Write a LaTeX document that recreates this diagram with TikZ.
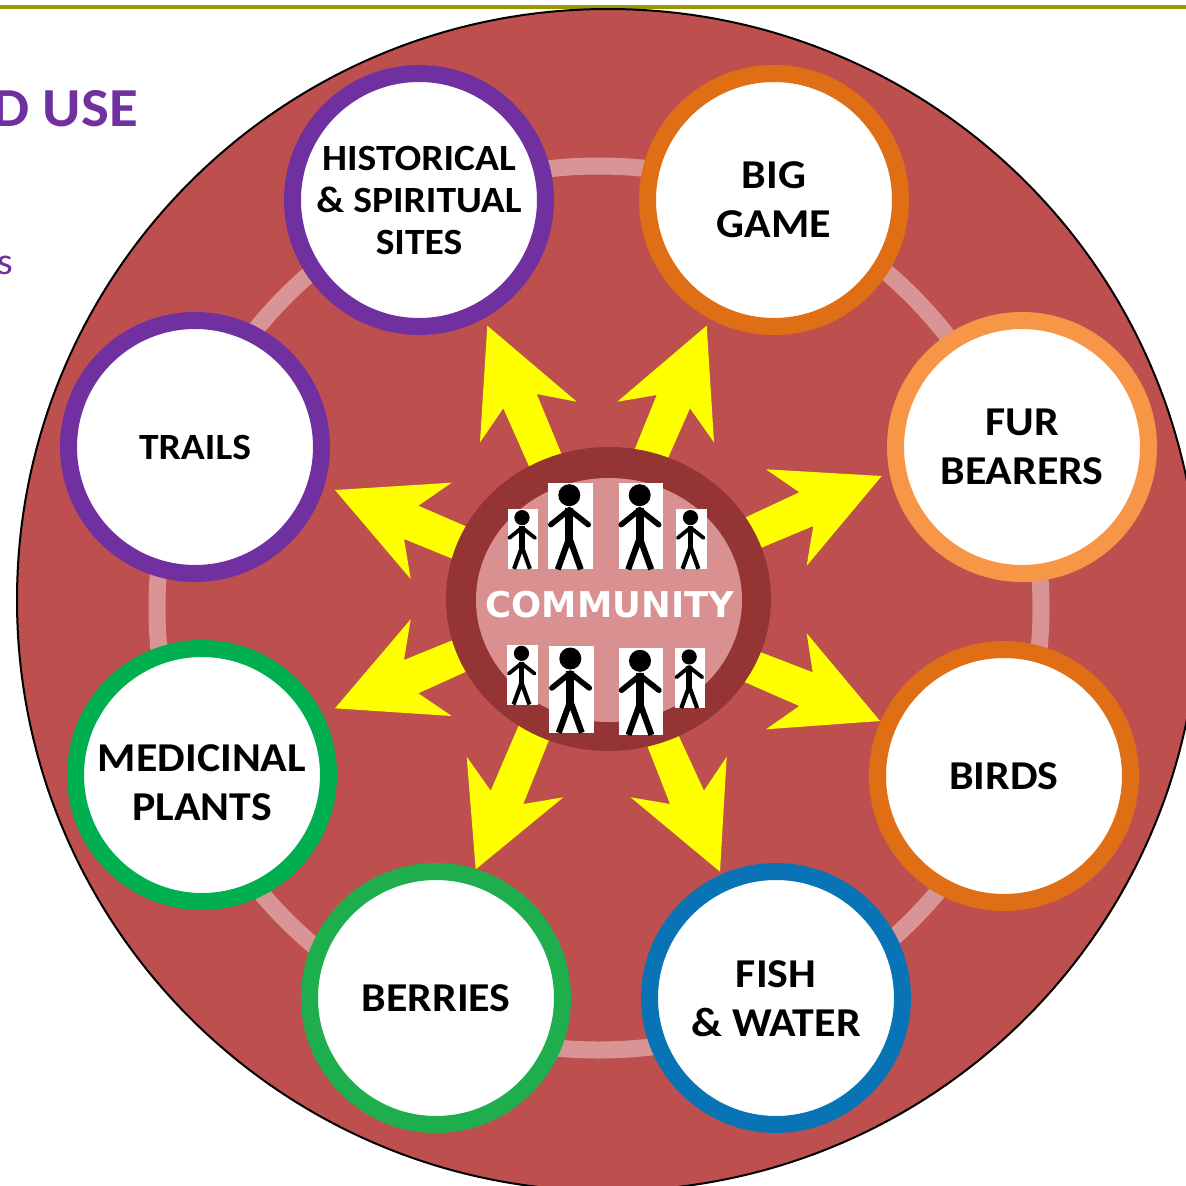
\documentclass[tikz,border=0pt]{standalone}
\usepackage{fontspec}
\setmainfont[FakeStretch=1.07]{Carlito}
\newfontfamily\comfont{DejaVu Sans}
\definecolor{disc}{HTML}{BD504E}
\definecolor{hubdark}{HTML}{943434}
\definecolor{hublight}{HTML}{D89090}
\definecolor{ringc}{HTML}{D99595}
\definecolor{purp}{HTML}{7030A0}
\definecolor{orng}{HTML}{DF6E14}
\definecolor{lorng}{HTML}{F79646}
\definecolor{grn}{HTML}{00B050}
\definecolor{lgrn}{HTML}{1FAE4E}
\definecolor{blu}{HTML}{0874B5}
\definecolor{olive}{HTML}{9A9A00}
\definecolor{yel}{HTML}{FFFF00}
\tikzset{
  topic/.style={circle,draw=#1,fill=white,line width=17pt,minimum size=253pt,inner sep=0pt,align=center,text=black},
  large/.style={font=\fontsize{41}{49}\selectfont\bfseries},
  medium/.style={font=\fontsize{37}{42}\selectfont\bfseries},
  caption/.style={inner sep=0pt,align=center,text=black},
  yarrow/.style={fill=yel,draw=none},
  side/.style={text=purp,inner sep=0pt,font=\bfseries},
}
\newcommand{\person}[3]{%
  \begin{scope}[shift={(#1,#2)},scale=#3]
    \fill[white] (0,0) rectangle (44.3,86.7);
    \fill[black] (21,12.5) circle (11);
    \draw[line width=#3*8pt] (21,25) -- (21,57);
    \draw[line width=#3*5.5pt,line cap=round,line join=round] (2.5,42) -- (21,27) -- (40,42);
    \draw[line width=#3*6pt] (9.5,86.7) -- (21,55) -- (32.5,86.7);
  \end{scope}}
\begin{document}
\begin{tikzpicture}[x=1pt,y=-1pt]
\useasboundingbox (0,0) rectangle (1186,1186);
\clip (0,0) rectangle (1186,1186);
\fill[white] (0,0) rectangle (1186,1186);
\draw[olive,line width=4pt] (0,7) -- (1186,7);
\node[side,anchor=east,font=\fontsize{55}{55}\selectfont\bfseries] (title) at (138,109) {D USE};
\node[side,anchor=east,font=\fontsize{38}{38}\selectfont] (subtitle) at (13,265) {s};
\draw[black,line width=2pt,fill=disc] (608,600) circle (591);
\draw[ringc,line width=17pt] (599,608) circle (442);
% arrows
\fill[yarrow] (487.3,325.7) -- (576.7,401.7) -- (536.7,394) -- (564,460) -- (532,473) -- (503.3,408.3) -- (480,442.3) -- cycle;
\fill[yarrow] (706.7,325.7) -- (714,442.3) -- (690,408.3) -- (665,465) -- (632,456) -- (656.7,395) -- (617.3,401.7) -- cycle;
\fill[yarrow] (335,490) -- (451.7,482.7) -- (418.3,505.7) -- (472,529) -- (458,561) -- (404,539) -- (410.7,579) -- cycle;
\fill[yarrow] (881.7,476) -- (766,469.3) -- (799.3,492.3) -- (740,520) -- (756,550) -- (813.3,526) -- (806.7,565.7) -- cycle;
\fill[yarrow] (335,708.3) -- (451.7,716) -- (418.3,693.3) -- (472,669) -- (458,638) -- (404,660) -- (410.7,619.3) -- cycle;
\fill[yarrow] (880,721) -- (766,729.3) -- (799.3,706) -- (740,680) -- (755,650) -- (812.7,672.3) -- (806.7,633.3) -- cycle;
\fill[yarrow] (475.7,869.3) -- (563.3,797.3) -- (523.3,804) -- (551,735) -- (521,720) -- (490.7,790.7) -- (466.7,756.7) -- cycle;
\fill[yarrow] (720,871.7) -- (630.7,797.3) -- (670,804) -- (645,740) -- (676,730) -- (704,790.7) -- (726.7,756.7) -- cycle;
% hub
\fill[hubdark] (608.5,599) ellipse (162.5 and 152);
\fill[hublight] (609,600) ellipse (133 and 122);
\person{548.3}{482.7}{1}
\person{618.7}{482.7}{1}
\person{507.5}{509}{0.69}
\person{676}{509}{0.69}
\person{549.3}{646}{1}
\person{619}{648.3}{1}
\person{507}{644.7}{0.69}
\person{674.7}{648.3}{0.69}
\node[text=white,inner sep=0pt,font=\comfont\fontsize{35.5}{35.5}\selectfont\bfseries] (hub) at (610,605) {COMMUNITY};
% topics
\node[topic=purp,medium] (hist) at (419,200) {HISTORICAL\\\&~SPIRITUAL\\SITES};
\node[topic=orng,large] (game) at (774,200) {BIG\\GAME};
\node[topic=lorng,large] (fur) at (1022,447) {FUR\\BEARERS};
\node[topic=orng,large] (birds) at (1004,776) {BIRDS};
\node[topic=blu] (fish) at (776,998) {};
\node[caption,large] (fishtext) at (776,999) {FISH\\\&~WATER};
\node[topic=lgrn,large] (berries) at (436,998) {BERRIES};
\node[topic=grn] (med) at (202,775) {};
\node[caption,large] (medtext) at (202,783) {MEDICINAL\\PLANTS};
\node[topic=purp,medium] (trails) at (195,447) {TRAILS};
\end{tikzpicture}
\end{document}
